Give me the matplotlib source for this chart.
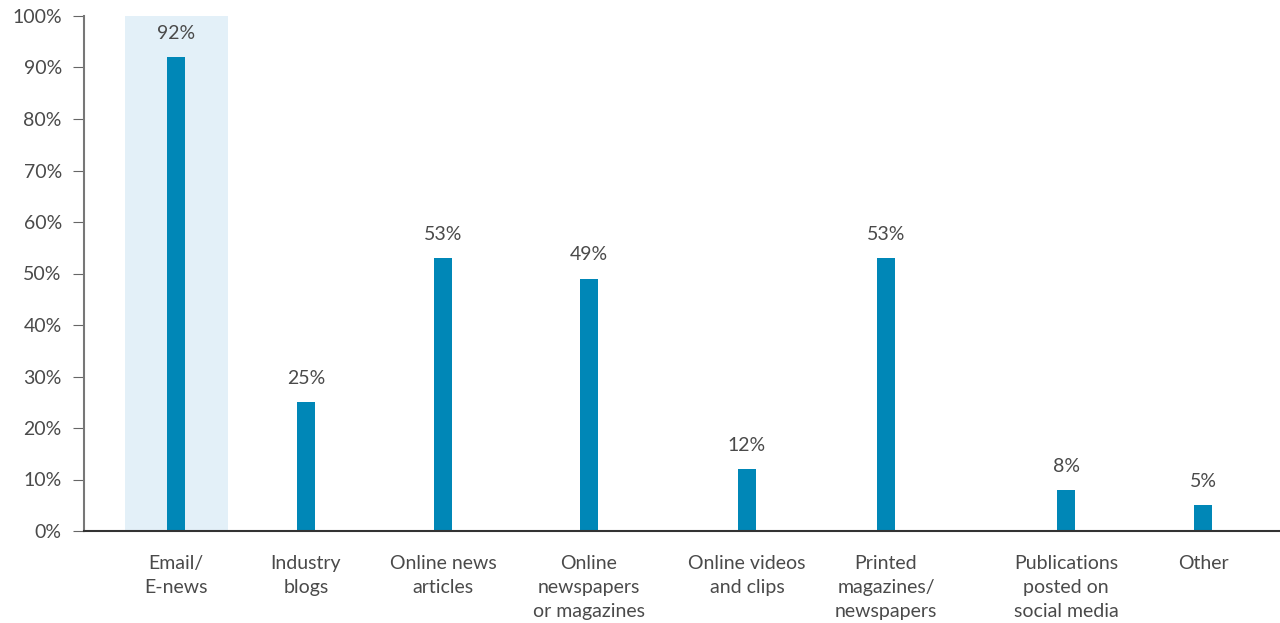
import matplotlib
matplotlib.use("Agg")
import matplotlib.pyplot as plt
from matplotlib.ticker import FuncFormatter

categories = ["Email/\nE-news", "Industry\nblogs", "Online news\narticles",
              "Online\nnewspapers\nor magazines", "Online videos\nand clips",
              "Printed\nmagazines/\nnewspapers", "Publications\nposted on\nsocial media",
              "Other"]
values = [92, 25, 53, 49, 12, 53, 8, 5]

# horizontal slot centres (uneven spacing as laid out in the report)
slots = [176, 306, 443, 589, 747, 886, 1066, 1203]

bar_color = "#0087b7"
text_color = "#4a4a4a"

plt.rcParams["font.family"] = ["Lato", "DejaVu Sans"]

fig = plt.figure(figsize=(12.8, 6.23), dpi=100)
ax = fig.add_axes([84 / 1280, 92 / 623, 1 - 84 / 1280, 515 / 623])

ax.axvspan(125, 228, color="#e3f0f8", zorder=0, lw=0)
ax.bar(slots, values, width=18, color=bar_color, zorder=2)

for x, v in zip(slots, values):
    ax.annotate(f"{v}%", (x, v), xytext=(0, 11), textcoords="offset points",
                ha="center", va="bottom", fontsize=14, color=text_color)

ax.set_xlim(84, 1280)
ax.set_ylim(0, 100)
ax.set_yticks(range(0, 101, 10))
ax.yaxis.set_major_formatter(FuncFormatter(lambda v, _: f"{int(v)}%"))
ax.set_xticks(slots)
ax.set_xticklabels(categories, linespacing=1.5)

ax.tick_params(axis="y", length=8, color="#666666", labelsize=14,
               labelcolor=text_color, pad=8)
ax.tick_params(axis="x", length=0, labelsize=14, labelcolor=text_color, pad=17)
for lbl in ax.get_xticklabels():
    lbl.set_verticalalignment("top")

for side in ("top", "right"):
    ax.spines[side].set_visible(False)
ax.spines["left"].set_color("#777777")
ax.spines["left"].set_linewidth(1.5)
ax.spines["bottom"].set_color("#333333")
ax.spines["bottom"].set_linewidth(1.5)

fig.savefig("out.png", dpi=100)
